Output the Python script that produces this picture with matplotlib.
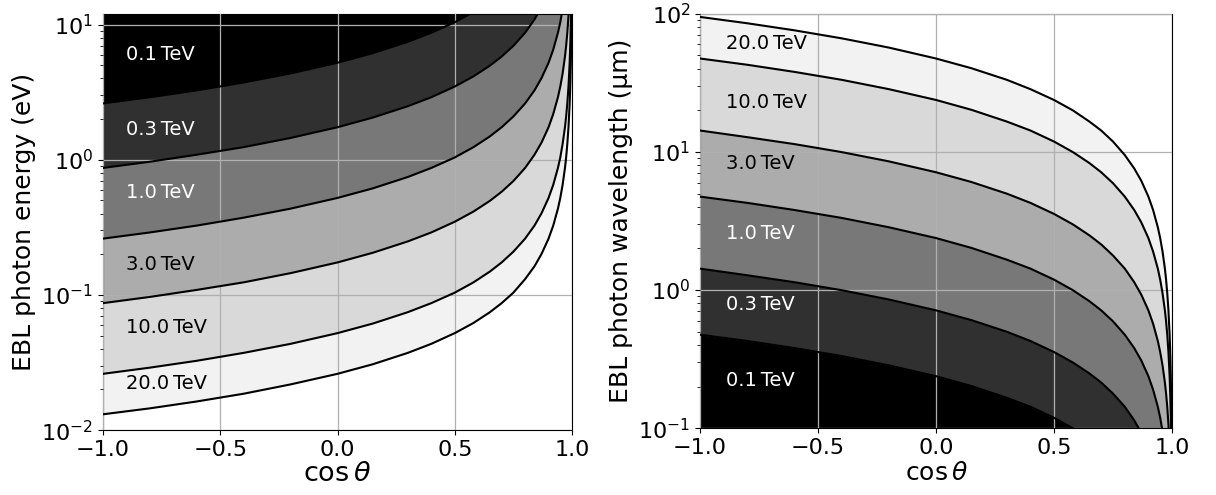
import numpy as np
import matplotlib
matplotlib.use('Agg')
import matplotlib.pyplot as plt

# cos(theta) sample points shared by every curve (denser towards cos = 1)
cos_theta = [-1.0, -0.8, -0.6, -0.4, -0.2, 0.0, 0.15, 0.3, 0.4, 0.5, 0.58, 0.65,
             0.7, 0.75, 0.8, 0.84, 0.87, 0.9, 0.92, 0.94, 0.95, 0.96, 0.97, 0.975,
             0.98, 0.985, 0.99, 0.993, 0.995, 0.997, 0.998, 0.999]

energies = ['0.1', '0.3', '1.0', '3.0', '10.0', '20.0']  # TeV

# threshold EBL photon energy (eV)
eps_01 = [2.61, 2.90, 3.26, 3.73, 4.35, 5.22, 6.14, 7.46, 8.70, 10.4, 12.4, 14.9,
          17.4, 20.9, 26.1, 32.6, 40.2, 52.2, 65.3, 87.0, 104, 131, 174, 209,
          261, 348, 522, 746, 1040, 1740, 2610, 5220]
eps_03 = [0.870, 0.967, 1.09, 1.24, 1.45, 1.74, 2.05, 2.49, 2.90, 3.48, 4.14, 4.97,
          5.80, 6.96, 8.70, 10.9, 13.4, 17.4, 21.8, 29.0, 34.8, 43.5, 58.0, 69.6,
          87.0, 116, 174, 249, 348, 580, 870, 1740]
eps_1 = [0.261, 0.290, 0.326, 0.373, 0.435, 0.522, 0.614, 0.746, 0.870, 1.04, 1.24, 1.49,
         1.74, 2.09, 2.61, 3.26, 4.02, 5.22, 6.53, 8.70, 10.4, 13.1, 17.4, 20.9,
         26.1, 34.8, 52.2, 74.6, 104, 174, 261, 522]
eps_3 = [0.0870, 0.0967, 0.109, 0.124, 0.145, 0.174, 0.205, 0.249, 0.290, 0.348, 0.414, 0.497,
         0.580, 0.696, 0.870, 1.09, 1.34, 1.74, 2.18, 2.90, 3.48, 4.35, 5.80, 6.96,
         8.70, 11.6, 17.4, 24.9, 34.8, 58.0, 87.0, 174]
eps_10 = [0.0261, 0.0290, 0.0326, 0.0373, 0.0435, 0.0522, 0.0614, 0.0746, 0.0870, 0.104, 0.124, 0.149,
          0.174, 0.209, 0.261, 0.326, 0.402, 0.522, 0.653, 0.870, 1.04, 1.31, 1.74, 2.09,
          2.61, 3.48, 5.22, 7.46, 10.4, 17.4, 26.1, 52.2]
eps_20 = [0.0131, 0.0145, 0.0163, 0.0186, 0.0218, 0.0261, 0.0307, 0.0373, 0.0435, 0.0522, 0.0621, 0.0746,
          0.0870, 0.104, 0.131, 0.163, 0.201, 0.261, 0.326, 0.435, 0.522, 0.653, 0.870, 1.04,
          1.31, 1.74, 2.61, 3.73, 5.22, 8.70, 13.1, 26.1]

# threshold EBL photon wavelength (um)
lam_01 = [0.475, 0.428, 0.380, 0.333, 0.285, 0.238, 0.202, 0.166, 0.143, 0.119, 0.0998, 0.0831,
          0.0713, 0.0594, 0.0475, 0.0380, 0.0309, 0.0238, 0.0190, 0.0143, 0.0119, 0.0095, 0.00713, 0.00594,
          0.00475, 0.00356, 0.00238, 0.00166, 0.00119, 0.000713, 0.000475, 0.000238]
lam_03 = [1.43, 1.28, 1.14, 0.998, 0.855, 0.713, 0.606, 0.499, 0.428, 0.356, 0.299, 0.249,
          0.214, 0.178, 0.143, 0.114, 0.0926, 0.0713, 0.0570, 0.0428, 0.0356, 0.0285, 0.0214, 0.0178,
          0.0143, 0.0107, 0.00713, 0.00499, 0.00356, 0.00214, 0.00143, 0.000713]
lam_1 = [4.75, 4.28, 3.80, 3.33, 2.85, 2.38, 2.02, 1.66, 1.43, 1.19, 0.998, 0.831,
         0.713, 0.594, 0.475, 0.380, 0.309, 0.238, 0.190, 0.143, 0.119, 0.0950, 0.0713, 0.0594,
         0.0475, 0.0356, 0.0238, 0.0166, 0.0119, 0.00713, 0.00475, 0.00238]
lam_3 = [14.3, 12.8, 11.4, 9.98, 8.55, 7.13, 6.06, 4.99, 4.28, 3.56, 2.99, 2.49,
         2.14, 1.78, 1.43, 1.14, 0.926, 0.713, 0.570, 0.428, 0.356, 0.285, 0.214, 0.178,
         0.143, 0.107, 0.0713, 0.0499, 0.0356, 0.0214, 0.0143, 0.00713]
lam_10 = [47.5, 42.8, 38.0, 33.3, 28.5, 23.8, 20.2, 16.6, 14.3, 11.9, 9.98, 8.31,
          7.13, 5.94, 4.75, 3.80, 3.09, 2.38, 1.90, 1.43, 1.19, 0.950, 0.713, 0.594,
          0.475, 0.356, 0.238, 0.166, 0.119, 0.0713, 0.0475, 0.0238]
lam_20 = [95.0, 85.5, 76.0, 66.5, 57.0, 47.5, 40.4, 33.3, 28.5, 23.8, 20.0, 16.6,
          14.3, 11.9, 9.50, 7.60, 6.18, 4.75, 3.80, 2.85, 2.38, 1.90, 1.43, 1.19,
          0.950, 0.713, 0.475, 0.333, 0.238, 0.143, 0.0950, 0.0475]

eps_curves = [eps_01, eps_03, eps_1, eps_3, eps_10, eps_20]
lam_curves = [lam_01, lam_03, lam_1, lam_3, lam_10, lam_20]

shades = ['#000000', '#303030', '#787878', '#acacac', '#d9d9d9', '#f2f2f2']
text_col = ['white', 'white', 'white', 'black', 'black', 'black']

# label heights (data units) for each band
eps_label_y = [6.0, 1.67, 0.57, 0.167, 0.057, 0.0223]
lam_label_y = [0.223, 0.79, 2.55, 8.3, 23.0, 60.7]

eps_lim = (1e-2, 12.0)
lam_lim = (1e-1, 1e2)

x = np.array(cos_theta)

fig = plt.figure(figsize=(12.16, 4.95), dpi=100)
ax1 = fig.add_axes([0.0847, 0.131, 0.3857, 0.841])
ax2 = fig.add_axes([0.5757, 0.135, 0.3881, 0.837])

# left panel: band for energy i lies above its curve, below the previous one
upper = np.full(len(x), eps_lim[1] * 10)
for i, curve in enumerate(eps_curves):
    c = np.array(curve)
    ax1.fill_between(x, c, upper, color=shades[i], lw=0, zorder=1)
    ax1.plot(x, c, color='black', lw=1.5, zorder=3)
    ax1.text(-0.9, eps_label_y[i], energies[i] + '\u2009TeV', color=text_col[i],
             fontsize=14, va='center', ha='left', zorder=4)
    upper = c

# right panel: band for energy i lies below its curve, above the previous one
lower = np.full(len(x), lam_lim[0] / 10)
for i, curve in enumerate(lam_curves):
    c = np.array(curve)
    ax2.fill_between(x, lower, c, color=shades[i], lw=0, zorder=1)
    ax2.plot(x, c, color='black', lw=1.5, zorder=3)
    ax2.text(-0.89, lam_label_y[i], energies[i] + '\u2009TeV', color=text_col[i],
             fontsize=14, va='center', ha='left', zorder=4)
    lower = c

for ax in (ax1, ax2):
    ax.set_yscale('log')
    ax.set_xlim(-1, 1)
    ax.set_xticks([-1.0, -0.5, 0.0, 0.5, 1.0])
    ax.grid(True, which='major', color='#b0b0b0', lw=0.9, zorder=2)
    ax.set_axisbelow(False)
    ax.tick_params(labelsize=16)

ax1.set_xlabel(r'$\cos\theta$', fontsize=19.5, labelpad=1)
ax2.set_xlabel(r'$\cos\theta$', fontsize=18, labelpad=2)
ax1.set_ylim(*eps_lim)
ax2.set_ylim(*lam_lim)
ax1.set_ylabel('EBL photon energy (eV)', fontsize=18)
ax2.set_ylabel('EBL photon wavelength (\u03bcm)', fontsize=18)

fig.savefig('out.png', dpi=100)
